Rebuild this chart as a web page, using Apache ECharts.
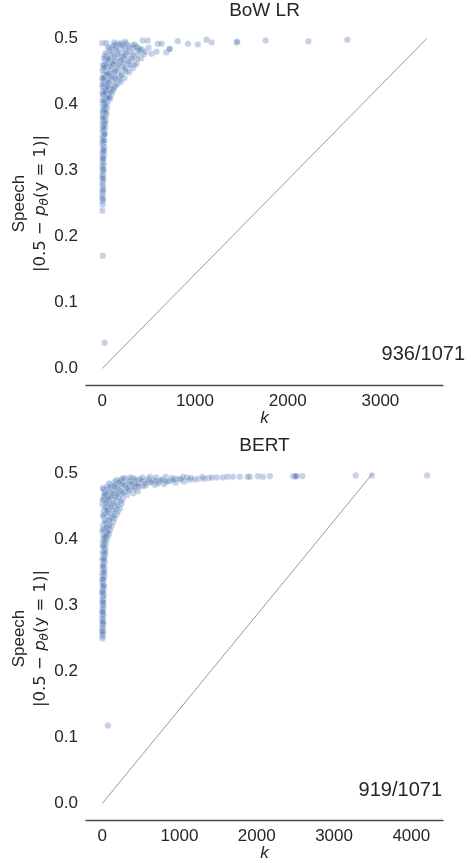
<!DOCTYPE html>
<html><head><meta charset="utf-8">
<script src="https://cdn.jsdelivr.net/npm/echarts/dist/echarts.min.js"></script>
<style>html,body{margin:0;padding:0;background:#fff}#c{width:471px;height:863px}</style>
</head><body><div id="c"></div>
<script>
// ---- data ----
const titles = ['BoW LR', 'BERT'];
const counts = ['936/1071', '919/1071'];
const yTicks = [0, 0.1, 0.2, 0.3, 0.4, 0.5];
const bowXTicks = [0, 1000, 2000, 3000];
const bertXTicks = [0, 1000, 2000, 3000, 4000];
const diagonal = [[0, 0], [3500, 0.5]];

const bowPoints = [
[2,0.239],[5,0.248],[3,0.253],[8,0.256],[1,0.262],[6,0.266],[4,0.271],[10,0.275],[2,0.279],[7,0.283],[12,0.287],[3,0.291],[9,0.294],[5,0.298],[14,0.301],[1,0.305],[8,0.308],[16,0.311],[4,0.314],[11,0.317],[6,0.32],[18,0.323],[2,0.326],[13,0.329],[9,0.332],[21,0.335],[5,0.338],[15,0.341],[3,0.344],[24,0.346],[10,0.349],[7,0.352],[19,0.354],[28,0.357],[2,0.36],[14,0.362],[33,0.365],[8,0.367],[22,0.369],[4,0.372],[17,0.374],[38,0.376],[11,0.378],[27,0.38],[6,0.383],[45,0.385],[20,0.387],[3,0.389],[34,0.391],[13,0.393],[52,0.395],[26,0.397],[8,0.399],
[7,0.171],[25,0.039],
[40,0.401],[15,0.403],[62,0.404],[4,0.406],[30,0.407],[88,0.409],[48,0.41],[10,0.412],[72,0.413],[24,0.415],[100,0.416],[55,0.418],[2,0.419],[38,0.42],[115,0.421],[80,0.422],[18,0.424],[60,0.425],
[130,0.426],[6,0.427],[95,0.428],[42,0.43],[160,0.431],[70,0.432],[22,0.433],[200,0.434],[115,0.435],[50,0.436],[3,0.437],[145,0.438],[85,0.439],[240,0.44],[30,0.441],[175,0.442],[110,0.443],[60,0.444],[12,0.445],
[210,0.446],[135,0.447],[80,0.448],[290,0.449],[40,0.45],[180,0.451],[5,0.452],[250,0.453],[100,0.454],[330,0.455],[60,0.456],[160,0.457],[220,0.458],[20,0.459],[120,0.46],[280,0.461],[370,0.462],[75,0.463],[195,0.464],[35,0.465],
[140,0.466],[310,0.467],[240,0.468],[90,0.469],[420,0.47],[180,0.471],[50,0.472],[350,0.473],[270,0.474],[120,0.475],[450,0.476],[210,0.477],[390,0.478],[160,0.479],[300,0.48],[80,0.481],[250,0.482],[430,0.483],[190,0.484],[340,0.485],
[110,0.486],[230,0.487],[150,0.488],[280,0.489],[200,0.49],[170,0.491],[260,0.492],[145,0.491],[0,0.493],[43,0.493],[225,0.49],
[20,0.405],[55,0.411],[8,0.416],[90,0.419],[35,0.423],[150,0.429],[65,0.434],[18,0.439],[190,0.437],[95,0.442],[45,0.446],[260,0.45],[150,0.452],[15,0.455],[90,0.458],[300,0.459],[45,0.462],[230,0.463],[130,0.465],[60,0.468],[380,0.469],[220,0.472],[25,0.474],[330,0.476],[100,0.478],[260,0.479],[400,0.481],[150,0.483],[40,0.478],[290,0.486],[370,0.487],[85,0.485],[20,0.47],[10,0.46],[5,0.44],[2,0.43],
[170,0.476],[240,0.474],[320,0.47],[130,0.472],[70,0.47],[200,0.467],[280,0.465],[110,0.462],[350,0.46],[175,0.46],[30,0.457],[240,0.455],[130,0.45],[70,0.447],[205,0.444],[140,0.44],[55,0.427],[120,0.424],[28,0.418],[75,0.41],[35,0.398],[18,0.392],[40,0.388],[10,0.38],[30,0.372],[15,0.365],[25,0.355],[12,0.345],[18,0.33],[8,0.318],[11,0.302],[6,0.288],[9,0.27],[4,0.258],[330,0.489],[380,0.486],[410,0.484],[460,0.48],[500,0.486],[350,0.491],[120,0.489],[60,0.487],[195,0.493],[245,0.495],[130,0.494],
[436,0.497],[490,0.497],[530,0.477],[585,0.48],[600,0.492],[640,0.492],[690,0.479],[727,0.484],[727,0.484],[815,0.496],[925,0.492],[1030,0.491],[1125,0.498],[1180,0.494],[1450,0.494],[1455,0.495],[1762,0.497],[2223,0.496],[2644,0.498]
];

const bertPoints = [
[3,0.25],[8,0.253],[1,0.256],[12,0.259],[5,0.262],[2,0.265],[9,0.268],[4,0.271],[14,0.273],[6,0.276],[1,0.279],[10,0.282],[3,0.285],[16,0.287],[7,0.29],[2,0.293],[12,0.296],[5,0.299],[18,0.301],[8,0.304],[1,0.307],[14,0.31],[4,0.313],[20,0.315],[9,0.318],[2,0.321],[16,0.324],[6,0.327],[22,0.329],[11,0.332],[3,0.335],[18,0.338],[7,0.341],[25,0.343],[13,0.346],[2,0.349],[20,0.352],[9,0.355],[28,0.357],[5,0.36],[16,0.363],[32,0.366],[11,0.368],[3,0.371],[24,0.373],[36,0.376],[14,0.378],[7,0.381],[30,0.383],[42,0.386],[19,0.388],[4,0.391],[48,0.393],[26,0.395],[10,0.398],[55,0.4],
[73,0.118],
[36,0.402],[68,0.404],[15,0.406],[85,0.408],[48,0.41],[5,0.412],[100,0.414],[28,0.416],[75,0.418],[120,0.42],[12,0.422],[58,0.424],[140,0.426],[90,0.428],[30,0.43],[160,0.432],[70,0.434],[8,0.436],[185,0.438],[110,0.439],[45,0.44],
[200,0.442],[140,0.443],[20,0.444],[85,0.446],[230,0.447],[55,0.449],[165,0.45],[120,0.452],[5,0.453],[250,0.454],[70,0.456],[190,0.457],[35,0.459],[130,0.46],[265,0.461],[95,0.462],[15,0.463],[215,0.464],[160,0.465],
[50,0.466],[320,0.467],[240,0.468],[110,0.469],[400,0.47],[180,0.471],[30,0.472],[290,0.472],[460,0.473],[140,0.474],[360,0.475],[80,0.476],[220,0.476],[430,0.477],[10,0.478],[300,0.478],[170,0.479],[480,0.48],[60,0.48],
[390,0.481],[250,0.481],[120,0.482],[560,0.482],[680,0.483],[330,0.483],[200,0.484],[800,0.484],[470,0.485],[90,0.485],[620,0.486],[280,0.486],[950,0.486],[160,0.487],[740,0.487],[420,0.488],[1060,0.488],[540,0.488],[230,0.489],[880,0.489],[360,0.49],[660,0.49],
[1130,0.49],[480,0.491],[780,0.491],[300,0.492],[1000,0.492],[590,0.492],[1250,0.492],[400,0.493],[900,0.493],[700,0.494],[1380,0.493],[520,0.494],[1100,0.494],[820,0.495],[1480,0.494],[620,0.495],[1560,0.494],[1690,0.495],[1620,0.495],[1780,0.495],[1880,0.495],[1910,0.495],[2015,0.496],[2080,0.495],[2170,0.496],[1300,0.495],[2470,0.496],[2500,0.496],[2500,0.496],[2515,0.496],[2590,0.496],[3280,0.497],[3490,0.497],[4205,0.497],
[25,0.403],[60,0.409],[10,0.415],[95,0.421],[40,0.427],[130,0.433],[20,0.437],[75,0.441],[175,0.445],[40,0.448],[205,0.451],[100,0.455],[240,0.458],[60,0.461],[180,0.463],[25,0.467],[270,0.47],[130,0.471],[340,0.474],[200,0.477],[410,0.479],[100,0.479],[530,0.481],[300,0.482],[170,0.483],[430,0.484],[720,0.485],[350,0.487],[850,0.488],[500,0.49],[250,0.491],[950,0.492],[700,0.489],[1200,0.491],[360,0.494],[1050,0.495],[15,0.476],[5,0.46],[45,0.455],
[600,0.489],[760,0.49],[820,0.488],[920,0.49],[1020,0.491],[1150,0.493],[1320,0.492],[1420,0.494],[430,0.491],[560,0.485],[640,0.487],[380,0.485],[460,0.482],[260,0.484],[150,0.48],[330,0.478],[240,0.473],[190,0.469],[120,0.466],[80,0.463],[150,0.455],[110,0.449],[60,0.444],[150,0.436],[100,0.43],[55,0.418],[80,0.412],[45,0.405],[32,0.397],[20,0.39],[38,0.38],[22,0.37],[12,0.36],[26,0.35],[6,0.34],[15,0.33],[4,0.32],[10,0.305],[3,0.29],[8,0.275],[2,0.26],[185,0.49],[275,0.493],[220,0.487],[70,0.472],[40,0.469]
];

// ---- chart ----
const FONT = '"Liberation Sans", Arial, sans-serif';
const MATH = '"DejaVu Sans", sans-serif';
const TXT = '#262626';
const chart = echarts.init(document.getElementById('c'), null, {renderer: 'canvas'});

const panels = [
  {top: 22, height: 363, xmin: -175, xmax: 3675, xticks: bowXTicks, pts: bowPoints},
  {top: 457, height: 363, xmin: -210, xmax: 4410, xticks: bertXTicks, pts: bertPoints}
];

const grid = [], xAxis = [], yAxis = [], series = [];
panels.forEach((p, i) => {
  grid.push({left: 86, right: 28, top: p.top, height: p.height, containLabel: false, outerBoundsMode: 'none'});
  xAxis.push({
    type: 'value', gridIndex: i, min: p.xmin, max: p.xmax,
    axisLine: {show: true, onZero: false, lineStyle: {color: '#4d4d4d', width: 1.3}},
    axisTick: {show: false}, splitLine: {show: false},
    axisLabel: {customValues: p.xticks, color: TXT, fontSize: 17, fontFamily: FONT, margin: 8,
      formatter: v => String(v)},
    name: 'k', nameLocation: 'middle', nameGap: 25, nameMoveOverlap: false,
    nameTextStyle: {fontStyle: 'italic', fontSize: 17, color: TXT, fontFamily: FONT}
  });
  yAxis.push({
    type: 'value', gridIndex: i, min: -0.025, max: 0.525,
    axisLine: {show: false, onZero: false}, axisTick: {show: false}, splitLine: {show: false},
    axisLabel: {customValues: yTicks, color: TXT, fontSize: 17, fontFamily: FONT, margin: 8,
      formatter: v => v.toFixed(1)},
    name: 'Speech\n{m||0.5 \u2212 }{i|p}{s|θ}{m|(y = 1)|}', nameLocation: 'middle', nameGap: 35, nameRotate: 90,
    nameMoveOverlap: false,
    nameTextStyle: {fontSize: 17, color: TXT, fontFamily: FONT, lineHeight: 21,
      rich: {
        m: {fontSize: 16.5, color: TXT, fontFamily: MATH, lineHeight: 21},
        i: {fontStyle: 'italic', fontSize: 16.5, color: TXT, fontFamily: MATH, lineHeight: 21},
        s: {fontStyle: 'italic', fontSize: 12, color: TXT, fontFamily: MATH, verticalAlign: 'bottom', lineHeight: 12}
      }}
  });
  series.push({
    type: 'line', xAxisIndex: i, yAxisIndex: i, data: diagonal, symbol: 'none',
    lineStyle: {color: '#9a9a9a', width: 1}, z: 1, silent: true
  });
  series.push({
    type: 'scatter', xAxisIndex: i, yAxisIndex: i, data: p.pts, symbolSize: 6.5,
    itemStyle: {color: 'rgba(76,114,176,0.4)', borderColor: 'rgba(255,255,255,0.5)', borderWidth: 0.6},
    z: 2
  });
});

chart.setOption({
  animation: false,
  backgroundColor: '#ffffff',
  grid, xAxis, yAxis, series,
  graphic: [
    {type: 'text', x: 264.5, y: 11, style: {text: titles[0], fontSize: 19, fill: TXT, fontFamily: FONT, textAlign: 'center', textVerticalAlign: 'middle'}},
    {type: 'text', x: 264.5, y: 446, style: {text: titles[1], fontSize: 19, fill: TXT, fontFamily: FONT, textAlign: 'center', textVerticalAlign: 'middle'}},
    {type: 'text', x: 465, y: 354, style: {text: counts[0], fontSize: 20, fill: TXT, fontFamily: FONT, textAlign: 'right', textVerticalAlign: 'middle'}},
    {type: 'text', x: 442, y: 790.5, style: {text: counts[1], fontSize: 20, fill: TXT, fontFamily: FONT, textAlign: 'right', textVerticalAlign: 'middle'}}
  ]
});
</script></body></html>
